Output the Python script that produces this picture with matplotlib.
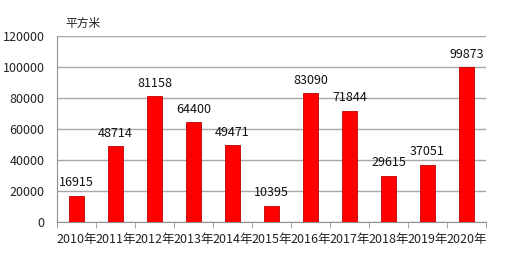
import matplotlib
matplotlib.use('Agg')
import matplotlib.pyplot as plt
import numpy as np

years = ['2010年', '2011年', '2012年', '2013年', '2014年', '2015年',
         '2016年', '2017年', '2018年', '2019年', '2020年']
area = [16915, 48714, 81158, 64400, 49471, 10395, 83090, 71844, 29615, 37051, 99873]
y_ticks = [0, 20000, 40000, 60000, 80000, 100000, 120000]

plt.rcParams['font.family'] = ['Noto Sans CJK SC', 'DejaVu Sans']

fig = plt.figure(figsize=(5.05, 2.58), dpi=100)
ax = fig.add_axes([57 / 505, 1 - 222 / 258, (486 - 57) / 505, (222 - 36) / 258])

x = np.arange(len(years))
bars = ax.bar(x, area, width=0.4, color='#ff0000', edgecolor='#c00000', linewidth=0.6, zorder=3)

for bar, v in zip(bars, area):
    ax.text(bar.get_x() + bar.get_width() / 2, v + 4300, str(v),
            ha='center', va='bottom', fontsize=9, color='#111111')

ax.set_xlim(-0.5, len(years) - 0.5)
ax.set_ylim(0, 120000)
ax.set_yticks(y_ticks)
ax.set_yticklabels([str(t) for t in y_ticks], fontsize=9, color='#222222')
ax.yaxis.grid(True, color='#a8a8a8', linewidth=1, zorder=0)
ax.tick_params(axis='y', length=0, pad=9)

ax.set_xticks(x)
ax.set_xticklabels(years, fontsize=9, color='#222222')
ax.set_xticks(np.arange(-0.5, len(years)), minor=True)
ax.tick_params(axis='x', which='major', length=0, pad=8)
ax.tick_params(axis='x', which='minor', length=4, color='#909090', direction='out')

for s in ['top', 'right']:
    ax.spines[s].set_visible(False)
for s in ['left', 'bottom']:
    ax.spines[s].set_color('#909090')

fig.text(65 / 505, 1 - 23 / 258, '平方米', fontsize=8.5, va='center', ha='left', color='#222222')

fig.savefig('out.png', dpi=100, facecolor='white')
